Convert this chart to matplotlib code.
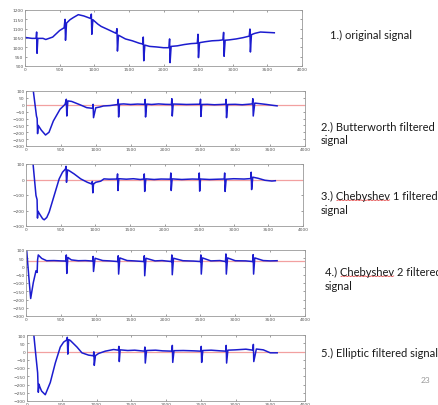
import numpy as np
import matplotlib
matplotlib.use('Agg')
import matplotlib.pyplot as plt
from matplotlib.lines import Line2D

# 1.) segnale originale (x campione, ampiezza)
orig_x = [0, 100, 160, 168, 174, 185, 260, 300, 400, 500, 565, 578, 585, 600, 650, 700, 770, 850, 945,
          958, 965, 980, 1050, 1100, 1200, 1315, 1328, 1335, 1350, 1450, 1550, 1650, 1698, 1708, 1715,
          1730, 1800, 1900, 2000, 2078, 2088, 2095, 2110, 2200, 2300, 2400, 2488, 2498, 2505, 2520, 2600,
          2700, 2800, 2858, 2868, 2875, 2890, 2950, 3050, 3150, 3238, 3248, 3255, 3270, 3320, 3400, 3500, 3600]
orig_y = [1053, 1048, 1048, 1082, 968, 1048, 1048, 1042, 1055, 1090, 1105, 1150, 1038, 1130, 1148, 1160, 1175,
          1168, 1155, 1178, 1070, 1148, 1125, 1112, 1095, 1075, 1100, 980, 1065, 1045, 1035, 1022, 1018, 1055,
          928, 1012, 1005, 1002, 998, 998, 1045, 918, 1005, 1008, 1015, 1020, 1022, 1070, 945, 1025, 1030, 1035,
          1037, 1040, 1080, 952, 1038, 1040, 1045, 1052, 1060, 1098, 975, 1068, 1075, 1082, 1080, 1078]

# 2.) Butterworth
butt_x = [100, 150, 160, 166, 175, 220, 280, 330, 392, 488, 560, 578, 585, 600, 655, 774, 870, 955, 962, 968,
          1000, 1061, 1109, 1204, 1315, 1322, 1328, 1340, 1400, 1500, 1600, 1700, 1708, 1714, 1730, 1800, 1900,
          2000, 2085, 2091, 2097, 2110, 2200, 2300, 2400, 2495, 2502, 2508, 2520, 2600, 2700, 2800, 2862, 2869,
          2875, 2890, 3000, 3100, 3200, 3245, 3252, 3258, 3280, 3350, 3450, 3550, 3600]
butt_y = [120, -82, -100, -210, -150, -185, -220, -200, -118, -33, 3, 40, -82, 28, 24, 0, -21, -26, 3, -94, -22,
          -16, -9, -6, 2, 39, -89, 4, 6, 2, 5, 3, 39, -89, 5, 2, 6, 3, 2, 44, -82, 5, 4, 2, 3, 4, 40, -85, 2, 3, 0,
          2, 4, 39, -94, 2, 3, 0, 4, 6, 44, -82, 12, 8, 2, -5, -8]

# 3.) Chebyshev 1
cheb1_x = [100, 144, 160, 166, 172, 200, 240, 263, 300, 335, 407, 479, 527, 570, 578, 585, 600, 623, 695, 790,
           886, 944, 958, 965, 975, 1006, 1078, 1126, 1200, 1315, 1322, 1328, 1340, 1450, 1550, 1650, 1700, 1708,
           1714, 1730, 1850, 1950, 2085, 2091, 2097, 2110, 2250, 2400, 2495, 2502, 2508, 2520, 2650, 2780, 2862,
           2869, 2875, 2890, 3000, 3150, 3245, 3252, 3258, 3275, 3350, 3450, 3550, 3600]
cheb1_y = [110, -103, -130, -249, -204, -225, -253, -260, -245, -210, -103, 4, 47, 68, 85, -18, 62, 57, 36, 4,
           -18, -28, -13, -86, -30, -18, -11, 4, 2, 3, 36, -71, 5, 2, 5, 0, 3, 36, -77, 4, 0, 3, 2, 42, -71, 4, 0,
           3, 2, 42, -75, 3, 0, 2, 3, 42, -77, 2, 5, 3, 6, 47, -65, 15, 8, -5, -10, -8]

# 4.) Chebyshev 2
cheb2_x = [10, 40, 67, 105, 143, 160, 166, 176, 225, 296, 400, 500, 570, 578, 585, 600, 650, 750, 850, 955,
           962, 968, 990, 1100, 1200, 1315, 1322, 1328, 1345, 1450, 1550, 1690, 1696, 1702, 1720, 1850, 1950,
           2085, 2091, 2097, 2115, 2250, 2400, 2500, 2507, 2513, 2530, 2650, 2780, 2860, 2866, 2872, 2890, 3000,
           3150, 3250, 3257, 3263, 3280, 3400, 3500, 3600]
cheb2_y = [96, -60, -194, -97, -26, -36, 40, 70, 49, 35, 36, 34, 33, 70, -42, 55, 40, 35, 36, 33, 61, -30, 50,
           36, 34, 30, 65, -46, 52, 36, 34, 30, 65, -56, 50, 34, 36, 30, 70, -50, 50, 35, 33, 30, 70, -46, 52, 34,
           36, 30, 76, -46, 52, 35, 34, 30, 72, -46, 52, 36, 34, 35]

# 5.) Ellittico
ell_x = [96, 129, 153, 163, 172, 185, 210, 263, 335, 407, 479, 527, 575, 580, 587, 600, 623, 719, 790, 886, 955,
         962, 968, 985, 1030, 1126, 1246, 1315, 1322, 1328, 1340, 1450, 1550, 1690, 1696, 1702, 1720, 1850, 1950,
         2085, 2091, 2097, 2115, 2250, 2400, 2500, 2507, 2513, 2530, 2650, 2780, 2860, 2866, 2872, 2890, 3000,
         3150, 3250, 3257, 3263, 3300, 3400, 3500, 3600]
ell_y = [110, -31, -129, -247, -198, -215, -240, -262, -188, -70, 27, 57, 71, 86, -16, 72, 67, 27, -8, -22, -26,
         -2, -84, -25, -12, 2, 12, 8, 31, -61, 10, 6, 8, 2, 27, -70, 6, 8, 4, 2, 37, -66, 5, 6, 4, 2, 31, -66, 6,
         8, 4, 2, 37, -70, 8, 10, 14, 8, 43, -61, 15, 10, -8, -8]

signals = [(orig_x, orig_y), (butt_x, butt_y), (cheb1_x, cheb1_y), (cheb2_x, cheb2_y), (ell_x, ell_y)]
ref_level = [None, 0, 0, 35, 0]
y_lim = [(900, 1200), (-300, 100), (-300, 100), (-300, 100), (-300, 100)]
y_step = [50, 50, 100, 50, 50]

labels = ['1.) original signal', '2.) Butterworth filtered\nsignal', '3.) Chebyshev 1 filtered\nsignal',
          '4.) Chebyshev 2 filtered\nsignal', '5.) Elliptic filtered signal']
# parola sottolineata dal correttore (prefisso, parola)
squiggle = [None, None, ('3.) ', 'Chebyshev'), ('4.) ', 'Chebyshev'), None]

W, H = 438, 406
# posizione assi in pixel: sinistra, alto, destra, basso
boxes = [(25, 11, 302, 67), (26, 92, 305, 147), (26, 165, 303, 227), (26, 251, 305, 317), (27, 336, 305, 402)]
label_pos = [(330, 30), (321, 121), (321, 191), (325, 267), (321, 348)]

fig = plt.figure(figsize=(W / 100, H / 100), dpi=100)
fig.patch.set_facecolor('white')

for i in range(5):
    l, t, r, b = boxes[i]
    ax = fig.add_axes([l / W, 1 - b / H, (r - l) / W, (b - t) / H])
    x, y = signals[i]
    if ref_level[i] is not None:
        ax.axhline(ref_level[i], color='#f2a0a0', lw=0.9)
    ax.plot(x, y, color='#1c1ccf', lw=1.1)
    ax.set_xlim(0, 4000)
    ax.set_ylim(*y_lim[i])
    ax.set_xticks(np.arange(0, 4001, 500))
    ax.set_yticks(np.arange(y_lim[i][0], y_lim[i][1] + 1, y_step[i]))
    ax.tick_params(direction='in', length=1.5, width=0.4, labelsize=3.2, pad=1.0,
                   colors='#555555', top=True, right=True)
    for s in ax.spines.values():
        s.set_color('#999999')
        s.set_linewidth(0.6)

txt_kw = dict(fontsize=8, family='Lato', color='#1a1a1a', va='top', ha='left', linespacing=1.3)
for i in range(5):
    fig.text(label_pos[i][0] / W, 1 - label_pos[i][1] / H, labels[i], **txt_kw)

# sottolineatura ondulata rossa sotto "Chebyshev"
renderer = fig.canvas.get_renderer()
for i in range(5):
    if squiggle[i] is None:
        continue
    pre, word = squiggle[i]
    px, py = label_pos[i][0] / W, 1 - label_pos[i][1] / H
    t1 = fig.text(px, py, pre, **txt_kw)
    t2 = fig.text(px, py, pre + word, **txt_kw)
    b1 = t1.get_window_extent(renderer)
    b2 = t2.get_window_extent(renderer)
    t1.remove()
    t2.remove()
    xs = np.arange(b1.x1 + 1, b2.x1, 1.6)
    ys = b2.y0 + 0.5 + 0.7 * (np.arange(len(xs)) % 2)
    fig.lines.append(Line2D(xs, ys, transform=None, color='#e03030', lw=0.5, figure=fig))

fig.text(421 / W, 1 - 381 / H, '23', fontsize=6, family='Lato', color='#999999', va='center', ha='left')

fig.savefig('out.png', dpi=100)
